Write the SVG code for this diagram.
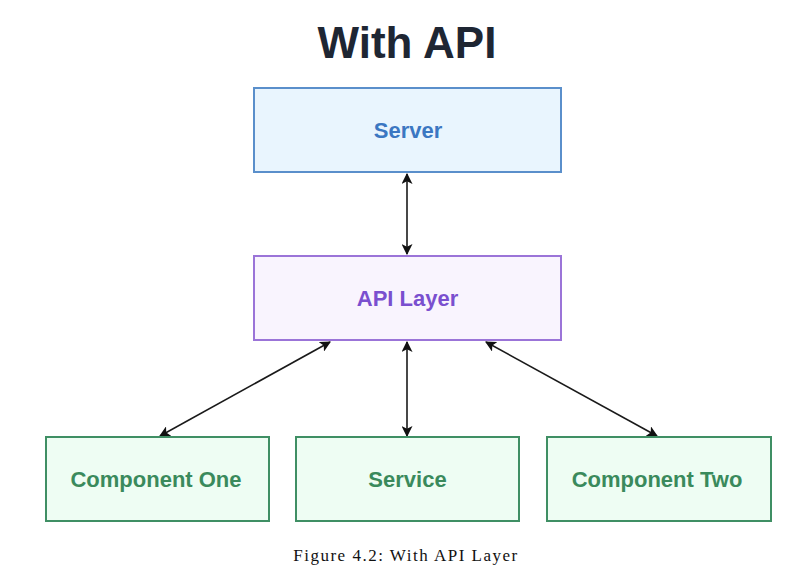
<svg xmlns="http://www.w3.org/2000/svg" width="794" height="583" viewBox="0 0 794 583">
<style>
.t{font-family:"Liberation Sans",Arial,sans-serif;font-weight:bold;font-size:22px;text-anchor:middle;dominant-baseline:central}
.srv rect{fill:#e9f5fe;stroke:#5a8fcb;stroke-width:2}
.srv text{fill:#3b77c2}
.api rect{fill:#f9f4fe;stroke:#9b74d8;stroke-width:2}
.api text{fill:#7a4fcf}
.cmp rect{fill:#eefdf3;stroke:#3f8f64;stroke-width:2}
.cmp text{fill:#3a8a5c}
.c line{stroke:#1a1a1a;stroke-width:1.6;fill:none}
</style>
<defs>
<marker id="ah" viewBox="0 0 10 10" refX="9" refY="5" markerWidth="11" markerHeight="11" markerUnits="userSpaceOnUse" orient="auto-start-reverse">
<path d="M0,0 L10,5 L0,10 L2.5,5 Z" fill="#111"/>
</marker>
</defs>
<rect width="794" height="583" fill="#fff"/>
<text x="407" y="42" font-family="Liberation Sans,Arial,sans-serif" font-weight="bold" font-size="44" fill="#1e2633" text-anchor="middle" dominant-baseline="central">With API</text>
<g class="c">
<line x1="407" y1="174" x2="407" y2="254" marker-start="url(#ah)" marker-end="url(#ah)"/>
<line x1="330" y1="342" x2="160" y2="436" marker-start="url(#ah)" marker-end="url(#ah)"/>
<line x1="407" y1="342" x2="407" y2="436" marker-start="url(#ah)" marker-end="url(#ah)"/>
<line x1="486" y1="342" x2="657" y2="436" marker-start="url(#ah)" marker-end="url(#ah)"/>
</g>
<g id="server" class="srv"><rect x="254" y="88" width="307" height="84"/><text class="t" x="408" y="130">Server</text></g>
<g id="api" class="api"><rect x="254" y="256" width="307" height="84"/><text class="t" x="407.5" y="298">API Layer</text></g>
<g id="comp1" class="cmp"><rect x="46" y="437" width="223" height="84"/><text class="t" x="156" y="479">Component One</text></g>
<g id="service" class="cmp"><rect x="296" y="437" width="223" height="84"/><text class="t" x="407.5" y="479">Service</text></g>
<g id="comp2" class="cmp"><rect x="547" y="437" width="224" height="84"/><text class="t" x="657" y="479">Component Two</text></g>
<text x="406" y="555" font-family="Liberation Serif,'Times New Roman',serif" font-size="17" letter-spacing="1.5" fill="#111" text-anchor="middle" dominant-baseline="central">Figure 4.2: With API Layer</text>
</svg>
